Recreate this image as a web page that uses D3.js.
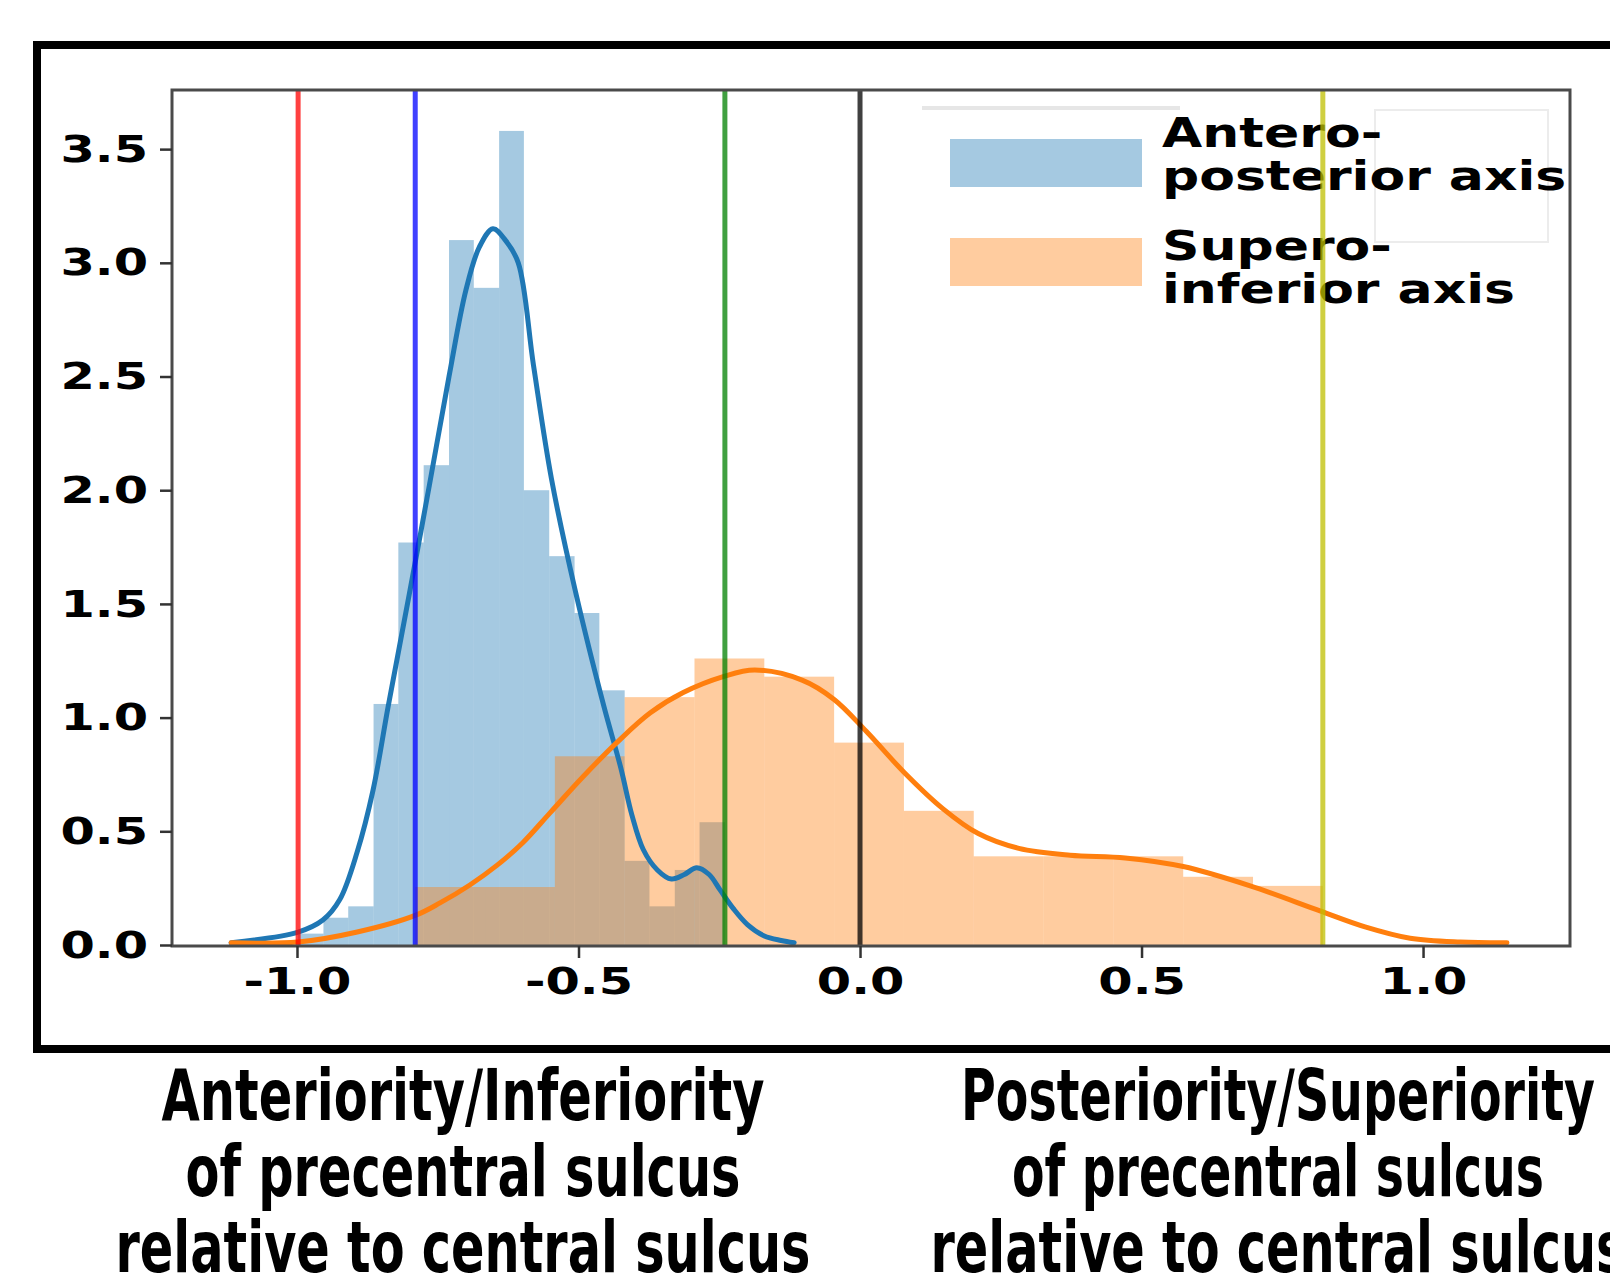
<!DOCTYPE html>
<html>
<head>
<meta charset="utf-8">
<script src="https://cdn.jsdelivr.net/npm/d3@7"></script>
<style>
  html, body { margin: 0; padding: 0; background: #fff; }
  svg { display: block; font-family: "DejaVu Sans", sans-serif; }
</style>
</head>
<body>
<div id="chart"></div>
<script>
const W = 1610;
const H = 1278;

// antero-posterior axis (blue) histogram, density per bin
const apEdges = [-0.998, -0.953, -0.909, -0.864, -0.820, -0.775, -0.730, -0.686, -0.641,
  -0.597, -0.552, -0.507, -0.463, -0.418, -0.374, -0.329, -0.285, -0.240];
const apDensity = [0.05, 0.12, 0.17, 1.06, 1.77, 2.11, 3.10, 2.89, 3.58, 2.00, 1.71, 1.46,
  1.12, 0.37, 0.17, 0.33, 0.54];

// supero-inferior axis (orange) histogram
const siEdges = [-0.790, -0.666, -0.542, -0.418, -0.294, -0.170, -0.046, 0.078, 0.202,
  0.326, 0.450, 0.574, 0.698, 0.822];
const siDensity = [0.255, 0.255, 0.83, 1.09, 1.26, 1.18, 0.89, 0.59, 0.39, 0.39, 0.39, 0.30, 0.26];

// kde curves
const apKdeX = [-1.117, -0.998, -0.954, -0.924, -0.893, -0.865, -0.838, -0.800, -0.765, -0.730,
  -0.700, -0.676, -0.652, -0.630, -0.607, -0.580, -0.548, -0.505, -0.455, -0.425, -0.405,
  -0.385, -0.360, -0.335, -0.312, -0.290, -0.268, -0.248, -0.225, -0.200, -0.170, -0.140, -0.117];
const apKdeY = [0.01, 0.057, 0.11, 0.20, 0.41, 0.68, 1.05, 1.55, 2.02, 2.50,
  2.88, 3.07, 3.15, 3.10, 3.00, 2.55, 2.05, 1.55, 1.05, 0.78, 0.57,
  0.42, 0.33, 0.29, 0.31, 0.34, 0.31, 0.24, 0.16, 0.09, 0.04, 0.02, 0.01];

const siKdeX = [-1.117, -0.998, -0.893, -0.790, -0.746, -0.693, -0.645, -0.599, -0.551, -0.492,
  -0.432, -0.373, -0.314, -0.243, -0.187, -0.103, -0.046, 0.011, 0.078, 0.147, 0.210,
  0.282, 0.373, 0.471, 0.574, 0.693, 0.817, 0.897, 0.977, 1.066, 1.149];
const siKdeY = [0.01, 0.013, 0.057, 0.13, 0.185, 0.264, 0.35, 0.45, 0.58, 0.74,
  0.89, 1.02, 1.11, 1.18, 1.209, 1.165, 1.08, 0.94, 0.76, 0.60, 0.49,
  0.425, 0.395, 0.383, 0.345, 0.26, 0.15, 0.08, 0.03, 0.013, 0.01];

// reference lines
const markValues = [-0.998, -0.790, -0.240, 0.0, 0.822];
const markColors = ['#ff0000', '#0000ff', '#008000', '#000000', '#bfbf00'];

const xTicks = [-1.0, -0.5, 0.0, 0.5, 1.0];
const yTicks = [0.0, 0.5, 1.0, 1.5, 2.0, 2.5, 3.0, 3.5];

const legendLabels = [['Antero-', 'posterior axis'], ['Supero-', 'inferior axis']];
const leftCaption = ['Anteriority/Inferiority', 'of precentral sulcus', 'relative to central sulcus'];
const rightCaption = ['Posteriority/Superiority', 'of precentral sulcus', 'relative to central sulcus'];

const plot = { left: 172, right: 1570, top: 90, bottom: 945 };
const STRETCH = 1.3;

const svg = d3.select('#chart').append('svg')
  .attr('width', W)
  .attr('height', H)
  .attr('viewBox', `0 0 ${W} ${H}`);

const x = d3.scaleLinear().domain([-1.222, 1.261]).range([plot.left, plot.right]);
const y = d3.scaleLinear().domain([0, 3.76]).range([plot.bottom, plot.top]);

// outer heavy frame
svg.append('rect')
  .attr('x', 37).attr('y', 45)
  .attr('width', 1700).attr('height', 1004)
  .attr('fill', 'none')
  .attr('stroke', '#000')
  .attr('stroke-width', 8);

function histBins(edges, dens) {
  return dens.map((d, i) => ({ x0: edges[i], x1: edges[i + 1], d }));
}

const gHist = svg.append('g').attr('class', 'hist');
[[histBins(apEdges, apDensity), '#1f77b4'], [histBins(siEdges, siDensity), '#ff7f0e']]
  .forEach(([bins, color]) => {
    gHist.append('g')
      .selectAll('rect')
      .data(bins)
      .join('rect')
      .attr('x', d => x(d.x0))
      .attr('width', d => x(d.x1) - x(d.x0))
      .attr('y', d => y(d.d))
      .attr('height', d => y(0) - y(d.d))
      .attr('fill', color)
      .attr('fill-opacity', 0.4);
  });

const kdeLine = d3.line()
  .x(d => x(d[0]))
  .y(d => y(d[1]))
  .curve(d3.curveCatmullRom.alpha(0.5));

[[apKdeX, apKdeY, '#1f77b4'], [siKdeX, siKdeY, '#ff7f0e']].forEach(([xs, ys, color]) => {
  svg.append('path')
    .datum(xs.map((v, i) => [v, ys[i]]))
    .attr('d', kdeLine)
    .attr('fill', 'none')
    .attr('stroke', color)
    .attr('stroke-width', 5)
    .attr('stroke-linejoin', 'round')
    .attr('stroke-linecap', 'round');
});

// legend
const lg = svg.append('g').attr('class', 'legend');
lg.append('rect')
  .attr('x', 922).attr('y', 104)
  .attr('width', 630).attr('height', 210)
  .attr('fill', '#fff');
lg.append('line')
  .attr('x1', 922).attr('x2', 1180).attr('y1', 108).attr('y2', 108)
  .attr('stroke', '#e6e6e6').attr('stroke-width', 4);
lg.append('rect')
  .attr('x', 1375).attr('y', 110).attr('width', 173).attr('height', 132)
  .attr('fill', 'none').attr('stroke', '#ececec').attr('stroke-width', 2);

const patchColors = ['#1f77b4', '#ff7f0e'];
const patchTop = [139, 238];
const labelBase = [[147, 190], [260, 303]];
legendLabels.forEach((lines, i) => {
  lg.append('rect')
    .attr('x', 950).attr('y', patchTop[i])
    .attr('width', 192).attr('height', 48)
    .attr('fill', patchColors[i]).attr('fill-opacity', 0.4);
  lines.forEach((t, j) => {
    lg.append('text')
      .attr('transform', `translate(1162,${labelBase[i][j]}) scale(${STRETCH},1)`)
      .attr('font-size', 40)
      .attr('font-weight', 'bold')
      .attr('fill', '#000')
      .text(t);
  });
});

// vertical reference lines
svg.append('g')
  .selectAll('line')
  .data(markValues)
  .join('line')
  .attr('x1', d => x(d)).attr('x2', d => x(d))
  .attr('y1', plot.top).attr('y2', plot.bottom)
  .attr('stroke', (d, i) => markColors[i])
  .attr('stroke-opacity', 0.75)
  .attr('stroke-width', 5);

// spines
svg.append('rect')
  .attr('x', plot.left).attr('y', plot.top)
  .attr('width', plot.right - plot.left)
  .attr('height', plot.bottom + 1 - plot.top)
  .attr('fill', 'none')
  .attr('stroke', '#4a4a4a')
  .attr('stroke-width', 3);

// axes
const xAxis = svg.append('g')
  .attr('transform', `translate(0,${plot.bottom + 1})`)
  .call(d3.axisBottom(x).tickValues(xTicks).tickFormat(d3.format('.1f')).tickSize(12));
xAxis.select('.domain').remove();
xAxis.selectAll('.tick line').attr('stroke', '#333').attr('stroke-width', 2.5);
xAxis.selectAll('.tick text')
  .attr('y', 48).attr('dy', 0)
  .attr('transform', `scale(${STRETCH},1)`)
  .attr('font-size', 38)
  .attr('font-weight', 'bold')
  .attr('font-family', 'DejaVu Sans')
  .attr('fill', '#000')
  .text(d => d3.format('.1f')(d).replace('−', '-'));

const yAxis = svg.append('g')
  .attr('transform', `translate(${plot.left},0)`)
  .call(d3.axisLeft(y).tickValues(yTicks).tickFormat(d3.format('.1f')).tickSize(12).tickPadding(12));
yAxis.select('.domain').remove();
yAxis.selectAll('.tick line').attr('stroke', '#333').attr('stroke-width', 2.5);
yAxis.selectAll('.tick text')
  .attr('x', 0)
  .attr('transform', `translate(-24,0) scale(${STRETCH},1)`)
  .attr('font-size', 38)
  .attr('font-weight', 'bold')
  .attr('font-family', 'DejaVu Sans')
  .attr('fill', '#000');

// captions below the frame
function caption(lines, cx, widths) {
  const g = svg.append('g');
  lines.forEach((t, i) => {
    g.append('text')
      .attr('x', cx)
      .attr('y', 1120 + i * 76)
      .attr('text-anchor', 'middle')
      .attr('font-size', 71)
      .attr('font-weight', 'bold')
      .attr('textLength', widths[i])
      .attr('lengthAdjust', 'spacingAndGlyphs')
      .attr('fill', '#000')
      .text(t);
  });
}
caption(leftCaption, 463, [603, 555, 695]);
caption(rightCaption, 1278, [634, 532, 695]);
</script>
</body>
</html>
